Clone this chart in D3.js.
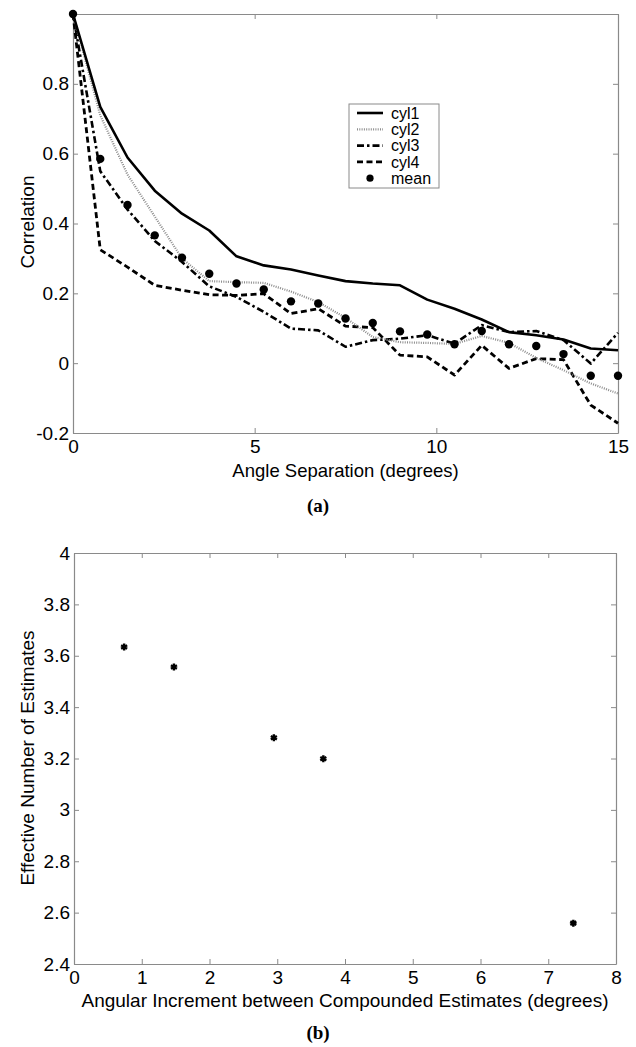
<!DOCTYPE html>
<html>
<head>
<meta charset="utf-8">
<script src="https://cdn.jsdelivr.net/npm/d3@7"></script>
<style>
  body { margin: 0; background: #fff; }
  text { font-family: "Liberation Sans", Arial, sans-serif; }
</style>
</head>
<body>
<div id="svg-wrapper"></div>
<script>
// panel (a): correlation vs angle separation, one sample every 0.75 deg
var angles = d3.range(21).map(i => i * 0.75);
var cyl1 = [1, 0.734, 0.589, 0.494, 0.428, 0.38, 0.306, 0.28, 0.268, 0.251, 0.235, 0.228, 0.223, 0.182, 0.156, 0.125, 0.089, 0.08, 0.068, 0.042, 0.037];
var cyl2 = [1, 0.71, 0.54, 0.42, 0.30, 0.235, 0.232, 0.23, 0.205, 0.175, 0.13, 0.075, 0.06, 0.058, 0.055, 0.078, 0.058, 0.015, -0.02, -0.058, -0.087];
var cyl3 = [1, 0.55, 0.44, 0.35, 0.29, 0.22, 0.19, 0.147, 0.099, 0.094, 0.047, 0.066, 0.07, 0.08, 0.056, 0.109, 0.089, 0.092, 0.066, -0.001, 0.087];
var cyl4 = [1, 0.325, 0.275, 0.223, 0.209, 0.196, 0.194, 0.199, 0.142, 0.156, 0.106, 0.102, 0.023, 0.018, -0.034, 0.051, -0.015, 0.013, 0.01, -0.12, -0.172];
var meanVals = [1, 0.585, 0.453, 0.366, 0.302, 0.256, 0.228, 0.211, 0.177, 0.171, 0.128, 0.115, 0.091, 0.082, 0.054, 0.092, 0.054, 0.049, 0.026, -0.036, -0.036];
var seriesNames = ["cyl1", "cyl2", "cyl3", "cyl4"];
var xTicksA = [0, 5, 10, 15];
var yTicksA = [-0.2, 0, 0.2, 0.4, 0.6, 0.8, 1];

// panel (b): effective number of estimates
var increments = [0.74, 1.475, 2.95, 3.68, 7.37];
var effective = [3.634, 3.556, 3.281, 3.199, 2.559];
var xTicksB = [0, 1, 2, 3, 4, 5, 6, 7, 8];
var yTicksB = [2.4, 2.6, 2.8, 3, 3.2, 3.4, 3.6, 3.8, 4];

var width = 636;
var height = 1047;
var axisColor = "#8a8a8a";
var fontSize = "19px";
var fmt = d => (d < 0 ? "-" : "") + String(Math.abs(+d.toFixed(1)));

var styles = {
  cyl1: {stroke: "#000", width: 2.6, dash: null},
  cyl2: {stroke: "#8c8c8c", width: 2.2, dash: "1,1.3"},
  cyl3: {stroke: "#000", width: 2.6, dash: "7,3,2.5,3"},
  cyl4: {stroke: "#000", width: 2.8, dash: "6,3.5"}
};

var svg = d3.select("#svg-wrapper")
  .append("svg")
  .attr("width", width)
  .attr("height", height)
  .attr("viewBox", [0, 0, width, height]);

// box with inward ticks on all four sides, labels only bottom/left
function frame(g, x, y, xt, yt, yLabelTicks) {
  var ax = (sel) => {
    sel.selectAll(".domain").attr("stroke", axisColor).attr("stroke-width", 1.2);
    sel.selectAll(".tick line").attr("stroke", axisColor);
    sel.selectAll("text").attr("fill", "#000").style("font-size", fontSize);
  };
  g.append("g")
    .attr("transform", `translate(0,${y.range()[0]})`)
    .call(d3.axisBottom(x).tickValues(xt).tickSize(-5).tickPadding(7).tickFormat(fmt).tickSizeOuter(0))
    .call(ax);
  g.append("g")
    .attr("transform", `translate(0,${y.range()[1]})`)
    .call(d3.axisTop(x).tickValues(xt).tickSize(-5).tickFormat("").tickSizeOuter(0))
    .call(ax);
  g.append("g")
    .attr("transform", `translate(${x.range()[0]},0)`)
    .call(d3.axisLeft(y).tickValues(yt).tickSize(-5).tickPadding(4)
      .tickFormat(d => yLabelTicks.includes(d) ? fmt(d) : "").tickSizeOuter(0))
    .call(ax);
  g.append("g")
    .attr("transform", `translate(${x.range()[1]},0)`)
    .call(d3.axisRight(y).tickValues(yt).tickSize(-5).tickFormat("").tickSizeOuter(0))
    .call(ax);
}

// ---------- panel (a) ----------
var xa = d3.scaleLinear().domain([0, 15]).range([73, 618]);
var ya = d3.scaleLinear().domain([-0.2, 1]).range([433, 14]);

var ga = svg.append("g");
frame(ga, xa, ya, xTicksA, yTicksA, [-0.2, 0, 0.2, 0.4, 0.6, 0.8]);

var seriesData = {cyl1: cyl1, cyl2: cyl2, cyl3: cyl3, cyl4: cyl4};
var line = d3.line().x((d, i) => xa(angles[i])).y(d => ya(d));

ga.append("g")
  .attr("fill", "none")
  .selectAll("path")
  .data(seriesNames.slice().reverse())
  .join("path")
  .attr("d", d => line(seriesData[d]))
  .attr("stroke", d => styles[d].stroke)
  .attr("stroke-width", d => styles[d].width)
  .attr("stroke-dasharray", d => styles[d].dash)
  .attr("stroke-linejoin", "round");

ga.append("g")
  .selectAll("circle")
  .data(meanVals)
  .join("circle")
  .attr("cx", (d, i) => xa(angles[i]))
  .attr("cy", d => ya(d))
  .attr("r", 4.2)
  .attr("fill", "#000");

ga.append("text")
  .attr("x", (xa.range()[0] + xa.range()[1]) / 2)
  .attr("y", 477)
  .attr("text-anchor", "middle")
  .style("font-size", "18.5px")
  .text("Angle Separation (degrees)");

ga.append("text")
  .attr("transform", "translate(34,222) rotate(-90)")
  .attr("text-anchor", "middle")
  .style("font-size", fontSize)
  .text("Correlation");

// legend
var legend = ga.append("g").attr("transform", "translate(349,104)");
legend.append("rect")
  .attr("width", 90).attr("height", 84)
  .attr("fill", "#fff").attr("stroke", axisColor);
var legendItems = seriesNames.concat(["mean"]);
var row = legend.selectAll("g.item")
  .data(legendItems)
  .join("g")
  .attr("class", "item")
  .attr("transform", (d, i) => `translate(0,${9 + i * 16.3})`);
row.filter(d => d !== "mean").append("line")
  .attr("x1", 8).attr("x2", 34)
  .attr("stroke", d => styles[d].stroke)
  .attr("stroke-width", d => styles[d].width)
  .attr("stroke-dasharray", d => styles[d].dash);
row.filter(d => d === "mean").append("circle")
  .attr("cx", 21).attr("r", 3.6).attr("fill", "#000");
row.append("text")
  .attr("x", 42)
  .attr("dy", "0.36em")
  .style("font-size", "16px")
  .text(d => d);

svg.append("text")
  .attr("x", 318).attr("y", 512)
  .attr("text-anchor", "middle")
  .style("font-family", "'Liberation Serif', serif")
  .style("font-weight", "bold")
  .style("font-size", "19px")
  .text("(a)");

// ---------- panel (b) ----------
var xb = d3.scaleLinear().domain([0, 8]).range([74, 616]);
var yb = d3.scaleLinear().domain([2.4, 4]).range([964, 553]);

var gb = svg.append("g");
frame(gb, xb, yb, xTicksB, yTicksB, yTicksB);

gb.append("g")
  .selectAll("path")
  .data(increments)
  .join("path")
  .attr("transform", (d, i) => `translate(${xb(d)},${yb(effective[i])})`)
  .attr("d", d3.symbol(d3.symbolAsterisk, 34))
  .attr("stroke", "#000")
  .attr("stroke-width", 2.4)
  .attr("fill", "none");

gb.append("text")
  .attr("x", (xb.range()[0] + xb.range()[1]) / 2)
  .attr("y", 1007)
  .attr("text-anchor", "middle")
  .style("font-size", "19px")
  .text("Angular Increment between Compounded Estimates (degrees)");

gb.append("text")
  .attr("transform", "translate(34,758) rotate(-90)")
  .attr("text-anchor", "middle")
  .style("font-size", fontSize)
  .text("Effective Number of Estimates");

svg.append("text")
  .attr("x", 318).attr("y", 1039)
  .attr("text-anchor", "middle")
  .style("font-family", "'Liberation Serif', serif")
  .style("font-weight", "bold")
  .style("font-size", "19px")
  .text("(b)");
</script>
</body>
</html>
